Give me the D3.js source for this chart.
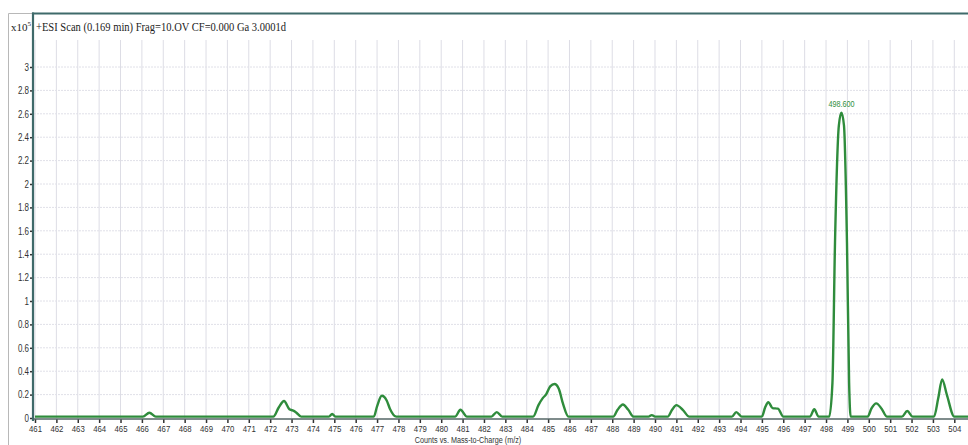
<!DOCTYPE html>
<html>
<head>
<meta charset="utf-8">
<script src="https://cdn.jsdelivr.net/npm/d3@7"></script>
<style>
  body { margin: 0; background: #fff; }
  svg { display: block; }
  .narrow { font-family: "Liberation Sans Narrow", "Arial Narrow", "Liberation Sans", Arial, sans-serif; }
</style>
</head>
<body>
<script>
// spectrum profile (m/z, counts x10^5)
var mz = [461.0, 466.05, 466.35, 466.65,
  472.15, 472.4, 472.65, 472.9, 473.05, 473.2, 473.45,
  474.75, 474.9, 475.05,
  476.85, 477.0, 477.22, 477.45, 477.6, 477.9,
  480.65, 480.9, 481.2,
  482.35, 482.6, 482.85,
  484.3, 484.55, 484.75, 484.9, 485.1, 485.3, 485.5, 485.7, 485.95,
  488.05, 488.25, 488.5, 488.75, 489.0,
  489.7, 489.85, 490.0,
  490.6, 490.8, 491.0, 491.3, 491.6,
  493.6, 493.8, 494.05,
  495.0, 495.15, 495.3, 495.5, 495.75, 496.0,
  497.25, 497.45, 497.65,
  498.15, 498.3, 498.42, 498.6, 498.72, 498.84, 498.98, 499.08, 499.15,
  499.95, 500.12, 500.35, 500.6, 500.85,
  501.55, 501.8, 502.05,
  503.05, 503.25, 503.43, 503.65, 504.0, 504.7];
var counts = [0.012, 0.012, 0.045, 0.012,
  0.012, 0.09, 0.145, 0.075, 0.065, 0.05, 0.012,
  0.012, 0.035, 0.012,
  0.012, 0.1, 0.19, 0.15, 0.08, 0.012,
  0.012, 0.07, 0.012,
  0.012, 0.05, 0.012,
  0.012, 0.11, 0.17, 0.2, 0.27, 0.29, 0.25, 0.12, 0.012,
  0.012, 0.07, 0.115, 0.07, 0.012,
  0.012, 0.025, 0.012,
  0.012, 0.07, 0.11, 0.07, 0.012,
  0.012, 0.05, 0.012,
  0.012, 0.09, 0.135, 0.085, 0.08, 0.012,
  0.012, 0.075, 0.012,
  0.012, 0.3, 1.5, 2.5, 2.61, 2.5, 1.5, 0.3, 0.012,
  0.012, 0.08, 0.125, 0.08, 0.012,
  0.012, 0.06, 0.012,
  0.012, 0.17, 0.33, 0.2, 0.012, 0.012];

var xTicks = d3.range(461, 505);
var yTicks = [0, 0.2, 0.4, 0.6, 0.8, 1, 1.2, 1.4, 1.6, 1.8, 2, 2.2, 2.4, 2.6, 2.8, 3];
var peakLabel = {mz: 498.72, value: 2.61, text: "498.600"};
var titleText = "+ESI Scan (0.169 min) Frag=10.OV CF=0.000 Ga 3.0001d";
var xTitle = "Counts vs. Mass-to-Charge (m/z)";

var width = 968, height = 445;
var svg = d3.select("body").append("svg")
    .attr("width", width)
    .attr("height", height);

var x = d3.scaleLinear().domain([461, 504]).range([35, 954.3]);
var y = d3.scaleLinear().domain([0, 3]).range([418, 67]);

var teal = "#3f6a6a", green = "#2f8c3c";

// squeeze a text horizontally, like the condensed font of the original
function squeeze(sel, k) {
  sel.each(function() {
    var w = this.getComputedTextLength();
    d3.select(this).attr("textLength", w * k).attr("lengthAdjust", "spacingAndGlyphs");
  });
}

// outer frame bits
svg.append("path")
    .attr("d", "M8.5,445 V13.5 H33")
    .attr("fill", "none").attr("stroke", "#b8b8b8").attr("stroke-width", 1);

// grid
svg.append("g").selectAll("line")
    .data(xTicks)
  .enter().append("line")
    .attr("x1", function(d) { return x(d); })
    .attr("x2", function(d) { return x(d); })
    .attr("y1", 40).attr("y2", y(0))
    .attr("stroke", "#dddde5").attr("stroke-width", 1);

svg.append("g").selectAll("line")
    .data(yTicks.slice(1))
  .enter().append("line")
    .attr("x1", 34).attr("x2", width)
    .attr("y1", function(d) { return y(d); })
    .attr("y2", function(d) { return y(d); })
    .attr("stroke", "#e0e0e8").attr("stroke-width", 1)
    .attr("stroke-dasharray", "2,1");

// axes
var xAxis = svg.append("g")
    .attr("class", "narrow")
    .attr("transform", "translate(0," + (y(0) + 1) + ")")
    .call(d3.axisBottom(x).tickValues(xTicks).tickFormat(d3.format("d")).tickSize(4).tickPadding(2));
xAxis.select(".domain").remove();
xAxis.selectAll("line").attr("stroke", "#333").attr("stroke-width", 1.5);
xAxis.selectAll("text").attr("font-size", 9.5).attr("fill", "#333").call(squeeze, 0.82);

svg.append("line")
    .attr("x1", 33).attr("x2", width)
    .attr("y1", y(0) + 1).attr("y2", y(0) + 1)
    .attr("stroke", "#566").attr("stroke-width", 1.5);

var yAxis = svg.append("g")
    .attr("class", "narrow")
    .attr("transform", "translate(33,0)")
    .call(d3.axisLeft(y).tickValues(yTicks).tickFormat(d3.format("~g")).tickSize(3).tickPadding(1));
yAxis.select(".domain").remove();
yAxis.selectAll("line").attr("stroke", "#333").attr("stroke-width", 1.5);
yAxis.selectAll("text").attr("font-size", 10).attr("fill", "#333").call(squeeze, 0.8);

// frame lines
svg.append("line")
    .attr("x1", 33).attr("x2", 33).attr("y1", 12.5).attr("y2", 421)
    .attr("stroke", teal).attr("stroke-width", 2.2);
svg.append("line")
    .attr("x1", 32).attr("x2", width).attr("y1", 13.5).attr("y2", 13.5)
    .attr("stroke", teal).attr("stroke-width", 2.2);

// spectrum
var pts = mz.map(function(m, i) { return [m, counts[i]]; });
var line = d3.line()
    .x(function(d) { return x(d[0]); })
    .y(function(d) { return y(d[1]); })
    .curve(d3.curveMonotoneX);

svg.append("path")
    .datum(pts)
    .attr("d", line)
    .attr("fill", "none")
    .attr("stroke", green)
    .attr("stroke-width", 2.4)
    .attr("stroke-linejoin", "round");

svg.append("text")
    .attr("class", "narrow")
    .attr("x", x(peakLabel.mz))
    .attr("y", y(peakLabel.value) - 6)
    .attr("text-anchor", "middle")
    .attr("font-size", 9)
    .attr("fill", green)
    .text(peakLabel.text)
    .call(squeeze, 0.8);

// titles
var serif = '"Liberation Serif", "Times New Roman", serif';
var xl = svg.append("text")
    .attr("x", 11).attr("y", 31)
    .attr("font-family", serif).attr("font-size", 11).attr("fill", "#222");
xl.append("tspan").text("x10");
xl.append("tspan").attr("dy", -5).attr("font-size", 7).text("5");

svg.append("text")
    .attr("x", 36).attr("y", 31)
    .attr("font-family", serif).attr("font-size", 13).attr("fill", "#222")
    .attr("textLength", 250).attr("lengthAdjust", "spacingAndGlyphs")
    .text(titleText);

svg.append("text")
    .attr("class", "narrow")
    .attr("x", 468).attr("y", 442.5)
    .attr("text-anchor", "middle")
    .attr("font-size", 8.5).attr("fill", "#333")
    .text(xTitle)
    .call(squeeze, 0.85);
</script>
</body>
</html>
